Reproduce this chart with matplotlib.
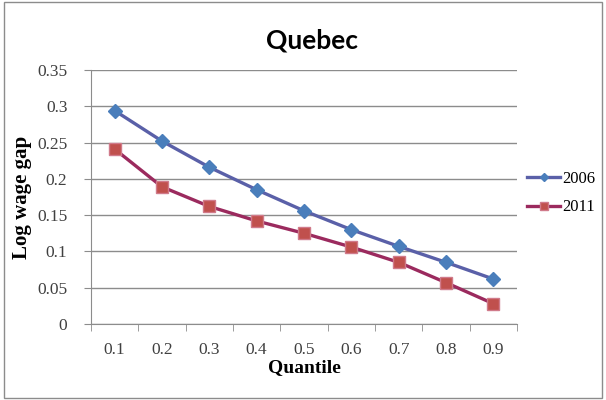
import matplotlib.pyplot as plt
import numpy as np
from matplotlib.patches import Rectangle

quantiles = ["0.1", "0.2", "0.3", "0.4", "0.5", "0.6", "0.7", "0.8", "0.9"]
gap_2006 = [0.294, 0.252, 0.216, 0.185, 0.156, 0.130, 0.107, 0.085, 0.062]
gap_2011 = [0.241, 0.189, 0.162, 0.142, 0.125, 0.106, 0.085, 0.057, 0.028]
yticks = [0, 0.05, 0.1, 0.15, 0.2, 0.25, 0.3, 0.35]
ytick_labels = ["0", "0.05", "0.1", "0.15", "0.2", "0.25", "0.3", "0.35"]

fig = plt.figure(figsize=(6.06, 4.00), dpi=100)
ax = fig.add_axes([91 / 606, 1 - 324 / 400, (517 - 91) / 606, (324 - 70) / 400])

# outer frame like the Excel chart area
fig.patches.append(Rectangle((4 / 606, 2 / 400), 598 / 606, 396 / 400, transform=fig.transFigure,
                             fill=False, edgecolor="#8c8c8c", linewidth=1.0))

x = np.arange(len(quantiles))
ax.plot(x, gap_2006, color="#5a60a8", linewidth=2.4, marker="D", markersize=7,
        markerfacecolor="#4a7ebb", markeredgecolor="#4a7ebb", label="2006", zorder=3)
ax.plot(x, gap_2011, color="#9b2a5e", linewidth=2.4, marker="s", markersize=9,
        markerfacecolor="#c0504d", markeredgecolor="#d07a8a", label="2011", zorder=3)

tick_font = {"family": "Liberation Serif", "size": 12.5}
ax.set_xlim(-0.5, 8.5)
ax.set_ylim(0, 0.35)
ax.set_yticks(yticks)
ax.set_yticklabels(ytick_labels, fontdict=tick_font, color="#404040")
ax.set_xticks(x)
ax.set_xticklabels(quantiles, fontdict=tick_font, color="#404040")
ax.tick_params(axis="x", which="major", length=0, pad=13)
ax.set_xticks(np.arange(-0.5, 9, 1), minor=True)
ax.tick_params(axis="x", which="minor", length=5, color="#8c8c8c", direction="out")
ax.tick_params(axis="y", length=5, color="#8c8c8c", direction="out", pad=12)

ax.grid(axis="y", color="#8c8c8c", linewidth=1.0)
ax.set_axisbelow(True)
for side in ["top", "right"]:
    ax.spines[side].set_visible(False)
for side in ["left", "bottom"]:
    ax.spines[side].set_color("#8c8c8c")

ax.set_xlabel("Quantile", fontfamily="Liberation Serif", fontweight="bold", fontsize=14, labelpad=1)
ax.set_ylabel("Log wage gap", fontfamily="Liberation Serif", fontweight="bold", fontsize=15, labelpad=4)
fig.text(312 / 606, 1 - 41 / 400, "Quebec", fontfamily="Lato", fontweight="bold", fontsize=19,
         ha="center", va="center")

ax.legend(loc="center left", bbox_to_anchor=(1.0, 0.515), frameon=False,
          prop={"family": "Liberation Serif", "size": 12}, handlelength=2.0, markerscale=0.65,
          handletextpad=0.1, labelspacing=0.75, borderaxespad=0.3, borderpad=0.3)

fig.savefig("out.png", dpi=100)
